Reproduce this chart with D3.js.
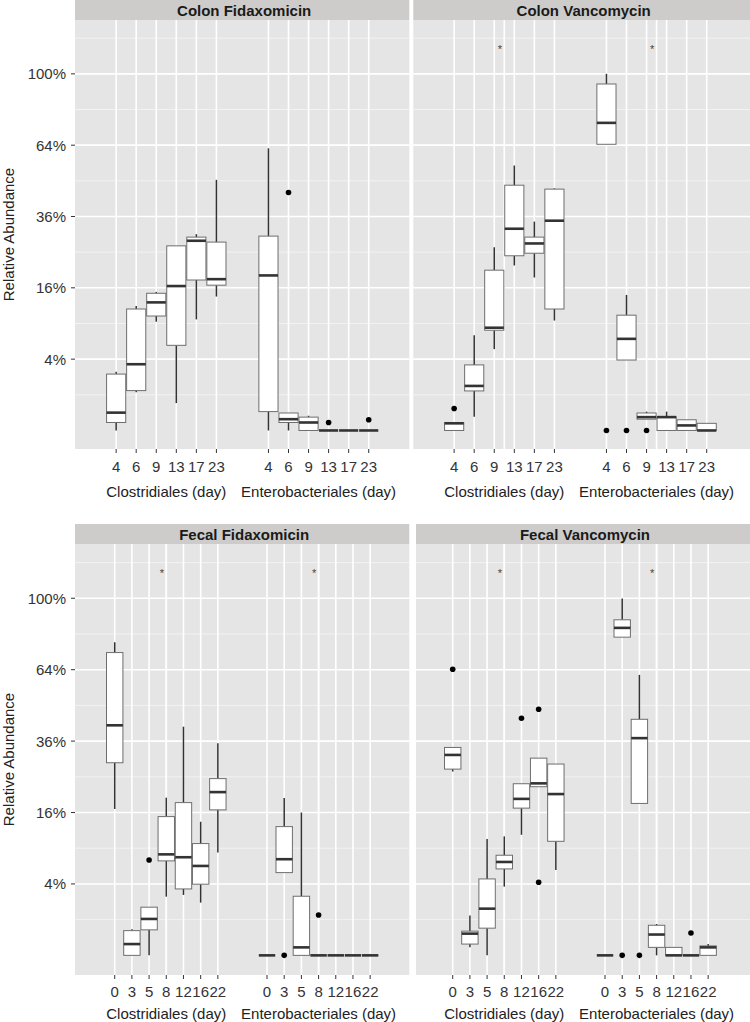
<!DOCTYPE html>
<html lang="en">
<head>
  <meta charset="UTF-8">
  <title>Relative Abundance boxplots</title>
  <script src="https://d3js.org/d3.v7.min.js"></script>
  <style>
    body{
      margin:0;
      background:white;
      font-family: "Liberation Sans", Arial, Helvetica, sans-serif;
    }
  </style>
</head>
<body>
<div id="chart"></div>
<script>
// ---- data ----
var panelTitles = ["Colon Fidaxomicin", "Colon Vancomycin", "Fecal Fidaxomicin", "Fecal Vancomycin"];
var groupLabels = ["Clostridiales (day)", "Enterobacteriales (day)"];
var colonDays = ["4", "6", "9", "13", "17", "23"];
var fecalDays = ["0", "3", "5", "8", "12", "16", "22"];
var yTicks = [0.04, 0.16, 0.36, 0.64, 1];
var yTickLabels = ["4%", "16%", "36%", "64%", "100%"];
var yMinor = [0.01, 0.09, 0.25, 0.49, 0.81, 1.21];

// box stats per day: [lower whisker, q1, median, q3, upper whisker]
var colonFidClos = [
  [0, 0.0005, 0.0025, 0.025, 0.027],
  [0.0115, 0.0125, 0.0345, 0.116, 0.122],
  [0.093, 0.103, 0.129, 0.148, 0.151],
  [0.0059, 0.057, 0.164, 0.268, 0.268],
  [0.097, 0.178, 0.283, 0.294, 0.303],
  [0.141, 0.166, 0.18, 0.279, 0.494]
];
var colonFidEntero = [
  [0, 0.0028, 0.189, 0.297, 0.626],
  [0, 0.0005, 0.001, 0.0024, 0.0024],
  [0, 0, 0.0005, 0.0014, 0.0017],
  [0, 0, 0, 0, 0],
  [0, 0, 0, 0, 0],
  [0, 0, 0, 0, 0]
];
var colonVanClos = [
  [0, 0, 0.0004, 0.0005, 0.0005],
  [0.0015, 0.0123, 0.0156, 0.0338, 0.0714],
  [0.052, 0.079, 0.083, 0.202, 0.264],
  [0.214, 0.24, 0.32, 0.473, 0.552],
  [0.184, 0.247, 0.275, 0.294, 0.343],
  [0.095, 0.116, 0.346, 0.458, 0.461]
];
var colonVanEntero = [
  [0.644, 0.644, 0.744, 0.944, 1.0],
  [0.039, 0.039, 0.066, 0.1045, 0.1445],
  [0.001, 0.001, 0.0014, 0.0024, 0.0028],
  [0, 0, 0.0014, 0.0015, 0.0028],
  [0, 0, 0.0002, 0.0009, 0.0009],
  [0, 0, 0, 0.0004, 0.0004]
];
var fecalFidClos = [
  [0.168, 0.291, 0.415, 0.719, 0.769],
  [0, 0, 0.001, 0.0048, 0.0053],
  [0, 0.0051, 0.0104, 0.0182, 0.0182],
  [0.027, 0.07, 0.08, 0.151, 0.195],
  [0.0286, 0.0346, 0.0755, 0.183, 0.41],
  [0.0218, 0.0397, 0.0627, 0.098, 0.14],
  [0.083, 0.166, 0.209, 0.245, 0.353]
];
var fecalFidEntero = [
  [0, 0, 0, 0, 0],
  [0.0537, 0.0537, 0.0725, 0.13, 0.194],
  [0, 0, 0.0005, 0.0274, 0.16],
  [0, 0, 0, 0, 0],
  [0, 0, 0, 0, 0],
  [0, 0, 0, 0, 0],
  [0, 0, 0, 0, 0]
];
var fecalVanClos = [
  [0.265, 0.272, 0.315, 0.339, 0.339],
  [0.0005, 0.001, 0.0037, 0.0046, 0.0124],
  [0, 0.0058, 0.0171, 0.0458, 0.106],
  [0.037, 0.0586, 0.0684, 0.0786, 0.111],
  [0.114, 0.17, 0.192, 0.231, 0.231],
  [0.223, 0.223, 0.232, 0.305, 0.305],
  [0.057, 0.102, 0.204, 0.287, 0.287]
];
var fecalVanEntero = [
  [0, 0, 0, 0, 0],
  [0.794, 0.794, 0.841, 0.883, 0.998],
  [0.181, 0.181, 0.37, 0.437, 0.617],
  [0, 0.0005, 0.0034, 0.0071, 0.0077],
  [0, 0, 0, 0.0005, 0.0005],
  [0, 0, 0, 0, 0],
  [0, 0, 0.0005, 0.0007, 0.001]
];

// outliers: [group index, day index, value]
var colonFidOutliers = [[1, 1, 0.445], [1, 3, 0.0005], [1, 5, 0.0009]];
var colonVanOutliers = [[0, 0, 0.0038], [1, 0, 0], [1, 1, 0], [1, 2, 0]];
var fecalFidOutliers = [[0, 2, 0.0714], [1, 1, 0], [1, 3, 0.0128]];
var fecalVanOutliers = [[0, 0, 0.642], [0, 4, 0.441], [0, 5, 0.475], [0, 5, 0.042], [1, 1, 0], [1, 2, 0], [1, 5, 0.0039]];

// significance stars (value where the * sits), null = none
var starValue = [null, 1.15, 1.15, 1.15];

// ---- layout ----
var width = 750, height = 1022;
var unitPx = 152.3;      // px per group on the x axis
var dodgeWidth = 0.79;   // share of a group taken by the boxes

var panels = [
  {title: panelTitles[0], days: colonDays, stats: [colonFidClos, colonFidEntero], out: colonFidOutliers, star: starValue[0],
   cx0: 74.9, bg0: 75, bg1: 409.3, top: 20, bottom: 449, yDom: [-0.0027, 1.3248], left: true, dayDy: 23, titleDy: 47.5},
  {title: panelTitles[1], days: colonDays, stats: [colonVanClos, colonVanEntero], out: colonVanOutliers, star: starValue[1],
   cx0: 412.9, bg0: 413.3, bg1: 750, top: 20, bottom: 449, yDom: [-0.0027, 1.3248], left: false, dayDy: 23, titleDy: 47.5},
  {title: panelTitles[2], days: fecalDays, stats: [fecalFidClos, fecalFidEntero], out: fecalFidOutliers, star: starValue[2],
   cx0: 74.9, bg0: 75, bg1: 409.3, top: 544, bottom: 975, yDom: [-0.003025, 1.327], left: true, dayDy: 22.3, titleDy: 44},
  {title: panelTitles[3], days: fecalDays, stats: [fecalVanClos, fecalVanEntero], out: fecalVanOutliers, star: starValue[3],
   cx0: 412.9, bg0: 416, bg1: 750, top: 544, bottom: 975, yDom: [-0.003025, 1.327], left: false, dayDy: 22.3, titleDy: 44}
];

var svg = d3.select("#chart").append("svg")
  .attr("width", width)
  .attr("height", height);

panels.forEach(drawPanel);

function drawPanel(p){
  var g = svg.append("g");
  var n = p.days.length;
  var step = dodgeWidth / n;

  var x = d3.scaleLinear()
    .domain([0.4, 2.6])
    .range([p.cx0, p.cx0 + 2.2 * unitPx]);
  var y = d3.scaleSqrt()
    .domain(p.yDom)
    .range([p.bottom, p.top]);

  // x position of a box
  function pos(gi, di){ return x(gi + 1 + (di - (n - 1) / 2) * step); }
  var boxW = (x(step) - x(0)) * 0.955;

  // all box positions
  var slots = [];
  [0, 1].forEach(function(gi){
    p.days.forEach(function(d, di){
      slots.push({g: gi, i: di, day: d, s: p.stats[gi][di]});
    });
  });

  // strip
  g.append("rect")
    .attr("x", p.bg0).attr("y", p.top - 20)
    .attr("width", p.bg1 - p.bg0).attr("height", 20)
    .attr("fill", "#cdcccb");
  g.append("text")
    .attr("x", (p.bg0 + p.bg1) / 2 + 2)
    .attr("y", p.top - 4.5)
    .attr("text-anchor", "middle")
    .attr("font-size", "15px")
    .attr("font-weight", "bold")
    .attr("fill", "#1a1a1a")
    .text(p.title);

  // panel background
  g.append("rect")
    .attr("x", p.bg0).attr("y", p.top)
    .attr("width", p.bg1 - p.bg0).attr("height", p.bottom - p.top)
    .attr("fill", "#e5e5e5");

  // grid lines
  g.selectAll(".minor").data(yMinor).enter().append("line")
    .attr("x1", p.bg0).attr("x2", p.bg1)
    .attr("y1", function(d){ return y(d); })
    .attr("y2", function(d){ return y(d); })
    .attr("stroke", "#f2f2f2").attr("stroke-width", 1);
  g.selectAll(".major").data(yTicks).enter().append("line")
    .attr("x1", p.bg0).attr("x2", p.bg1)
    .attr("y1", function(d){ return y(d); })
    .attr("y2", function(d){ return y(d); })
    .attr("stroke", "white").attr("stroke-width", 1.6);
  g.selectAll(".vgrid").data(slots).enter().append("line")
    .attr("x1", function(d){ return pos(d.g, d.i); })
    .attr("x2", function(d){ return pos(d.g, d.i); })
    .attr("y1", p.top).attr("y2", p.bottom)
    .attr("stroke", "white").attr("stroke-width", 1.6);
  if (p.star !== null){
    // the star layer also puts a line on each group centre
    g.selectAll(".cgrid").data([1, 2]).enter().append("line")
      .attr("x1", function(d){ return x(d); })
      .attr("x2", function(d){ return x(d); })
      .attr("y1", p.top).attr("y2", p.bottom)
      .attr("stroke", "white").attr("stroke-width", 1.6);
  }

  // whiskers
  var box = g.selectAll(".box").data(slots).enter().append("g");
  box.append("line")
    .attr("x1", function(d){ return pos(d.g, d.i); })
    .attr("x2", function(d){ return pos(d.g, d.i); })
    .attr("y1", function(d){ return y(d.s[3]); })
    .attr("y2", function(d){ return y(d.s[4]); })
    .attr("stroke", "#333").attr("stroke-width", 1.5);
  box.append("line")
    .attr("x1", function(d){ return pos(d.g, d.i); })
    .attr("x2", function(d){ return pos(d.g, d.i); })
    .attr("y1", function(d){ return y(d.s[0]); })
    .attr("y2", function(d){ return y(d.s[1]); })
    .attr("stroke", "#333").attr("stroke-width", 1.5);
  // boxes
  box.append("rect")
    .attr("x", function(d){ return pos(d.g, d.i) - boxW / 2; })
    .attr("y", function(d){ return y(d.s[3]); })
    .attr("width", boxW)
    .attr("height", function(d){ return y(d.s[1]) - y(d.s[3]); })
    .attr("fill", "white")
    .attr("stroke", "#6e6e6e").attr("stroke-width", 1);
  // medians
  box.append("line")
    .attr("x1", function(d){ return pos(d.g, d.i) - boxW / 2; })
    .attr("x2", function(d){ return pos(d.g, d.i) + boxW / 2; })
    .attr("y1", function(d){ return y(d.s[2]); })
    .attr("y2", function(d){ return y(d.s[2]); })
    .attr("stroke", "#333").attr("stroke-width", 2.6);

  // outliers
  g.selectAll(".out").data(p.out).enter().append("circle")
    .attr("cx", function(d){ return pos(d[0], d[1]); })
    .attr("cy", function(d){ return y(d[2]); })
    .attr("r", 2.8)
    .attr("fill", "black");

  // stars
  if (p.star !== null){
    g.selectAll(".star").data([1, 2]).enter().append("text")
      .attr("x", function(d){ return x(d) - 4.5; })
      .attr("y", y(p.star) + 4.5)
      .attr("text-anchor", "middle")
      .attr("font-size", "11px")
      .attr("fill", "#444")
      .text("*");
  }

  // x ticks and day labels
  g.selectAll(".xtick").data(slots).enter().append("line")
    .attr("x1", function(d){ return pos(d.g, d.i); })
    .attr("x2", function(d){ return pos(d.g, d.i); })
    .attr("y1", p.bottom).attr("y2", p.bottom + 4)
    .attr("stroke", "#333").attr("stroke-width", 1);
  g.selectAll(".xlab").data(slots).enter().append("text")
    .attr("x", function(d){ return pos(d.g, d.i); })
    .attr("y", p.bottom + p.dayDy)
    .attr("text-anchor", "middle")
    .attr("font-size", "15px")
    .attr("fill", "#333")
    .text(function(d){ return d.day; });
  g.selectAll(".glab").data(groupLabels).enter().append("text")
    .attr("x", function(d, i){ return x(i + 1); })
    .attr("y", p.bottom + p.titleDy)
    .attr("text-anchor", "middle")
    .attr("font-size", "15px")
    .attr("fill", "#222")
    .text(function(d){ return d; });

  // y axis on the left column only
  if (p.left){
    g.selectAll(".ytick").data(yTicks).enter().append("line")
      .attr("x1", p.bg0 - 4).attr("x2", p.bg0)
      .attr("y1", function(d){ return y(d); })
      .attr("y2", function(d){ return y(d); })
      .attr("stroke", "#333").attr("stroke-width", 1);
    g.selectAll(".ylab").data(yTicks).enter().append("text")
      .attr("x", p.bg0 - 9)
      .attr("y", function(d){ return y(d) + 5.5; })
      .attr("text-anchor", "end")
      .attr("font-size", "15px")
      .attr("fill", "#333")
      .text(function(d, i){ return yTickLabels[i]; });
    g.append("text")
      .attr("transform", "translate(14," + ((p.top + p.bottom) / 2) + ") rotate(-90)")
      .attr("text-anchor", "middle")
      .attr("font-size", "15px")
      .attr("fill", "#222")
      .text("Relative Abundance");
  }
}
</script>
</body>
</html>
